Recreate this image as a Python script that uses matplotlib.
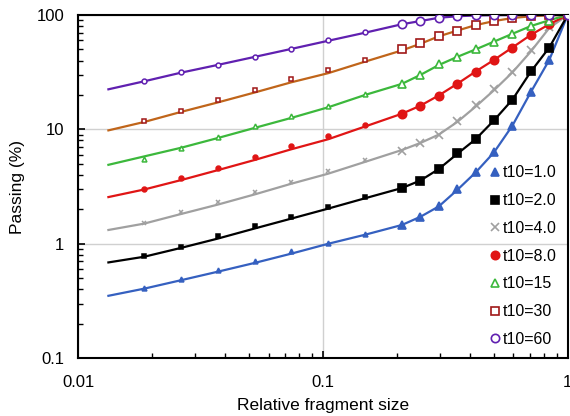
import matplotlib
matplotlib.use("Agg")
import matplotlib.pyplot as plt
from matplotlib.ticker import FixedLocator, FixedFormatter, LogLocator, NullFormatter

plt.rcParams['font.family'] = ['Liberation Sans', 'DejaVu Sans']

# relative fragment sizes of the test points (sqrt2 / 4th-root-2 series)
sizes = [0.0186, 0.0263, 0.0372, 0.0526, 0.0743, 0.1051, 0.1487, 0.2102,
         0.25, 0.2973, 0.3536, 0.4204, 0.5, 0.5946, 0.7071, 0.8409, 1.0]
line_x = [0.0133] + sizes

labels = ['t10=1.0', 't10=2.0', 't10=4.0', 't10=8.0', 't10=15', 't10=30', 't10=60']

# measured passing (%)
pts_1 = [0.41, 0.492, 0.593, 0.714, 0.857, 1.01, 1.22, 1.47, 1.73, 2.12, 3.0, 4.2, 6.3, 10.8, 21.4, 40.5, 100]
pts_2 = [0.775, 0.946, 1.16, 1.42, 1.73, 2.09, 2.54, 3.07, 3.57, 4.49, 6.2, 8.2, 12.1, 18.1, 32.4, 51.8, 100]
pts_4 = [1.53, 1.91, 2.33, 2.83, 3.5, 4.34, 5.42, 6.53, 7.67, 9.0, 11.8, 16.2, 22.7, 32.0, 49.0, 78.0, 100]
pts_8 = [3.02, 3.75, 4.58, 5.79, 7.22, 8.77, 10.9, 13.7, 16.1, 19.6, 25.0, 32.0, 40.5, 51.8, 66.9, 83.4, 100]
pts_15 = [5.5, 6.9, 8.65, 10.7, 13.1, 16.1, 20.4, 25.0, 29.9, 37.1, 43.2, 50.1, 58.4, 68.2, 80.2, 89.2, 100]
pts_30 = [11.9, 14.5, 18.0, 22.0, 27.4, 33.3, 40.7, 50.5, 57.3, 65.9, 72.9, 81.8, 88.7, 94.2, 97.5, 99.2, 100]
pts_60 = [26.5, 31.6, 36.6, 43.0, 50.8, 60.1, 70.6, 83.4, 88.5, 95.0, 98.0, 99.4, 99.7, 99.8, 99.9, 100, 100]

# fitted curves (passing %) at line_x
fit_1 = [0.351, 0.405, 0.48, 0.57, 0.68, 0.82, 1.0, 1.2, 1.46, 1.72, 2.12, 2.95, 4.2, 6.3, 10.8, 21.2, 40.5, 100]
fit_2 = [0.687, 0.77, 0.92, 1.11, 1.36, 1.66, 2.03, 2.5, 3.07, 3.57, 4.5, 6.1, 8.2, 12.0, 18.2, 32, 52, 100]
fit_4 = [1.32, 1.5, 1.82, 2.2, 2.7, 3.35, 4.1, 5.2, 6.6, 7.6, 9.0, 11.6, 15.8, 22.0, 31.5, 48, 77, 100]
fit_8 = [2.56, 2.98, 3.6, 4.4, 5.4, 6.7, 8.2, 10.6, 13.7, 16.1, 19.8, 25, 32, 40.5, 52, 67, 83, 100]
fit_15 = [4.9, 5.8, 6.9, 8.4, 10.3, 12.6, 15.6, 20.0, 25.0, 29.9, 36.5, 43, 50, 58.5, 68.5, 80, 90, 100]
fit_30 = [9.8, 11.6, 14.2, 17.2, 21.0, 25.8, 31.0, 39.1, 49.0, 56.0, 65, 73, 81.5, 88.5, 94, 97.5, 99.3, 100]
fit_60 = [22.4, 26.3, 31.3, 36.6, 43, 50.5, 59.5, 70, 83, 88.5, 94.5, 97.5, 99, 99.6, 99.8, 99.9, 100, 100]

points = [pts_1, pts_2, pts_4, pts_8, pts_15, pts_30, pts_60]
fits = [fit_1, fit_2, fit_4, fit_8, fit_15, fit_30, fit_60]

line_colors = ['#3560c0', '#000000', '#a0a0a0', '#e01515', '#3cb83c', '#c0651a', '#6020b0']
edge_colors = ['#3560c0', '#000000', '#a0a0a0', '#e01515', '#3cb83c', '#a01818', '#6020b0']
markers = ['^', 's', 'x', 'o', '^', 's', 'o']
filled = [True, True, True, True, False, False, False]

fig = plt.figure(figsize=(5.7, 4.16), dpi=100)
ax = fig.add_axes([0.137, 0.139, 0.859, 0.825])

handles = []
for i in range(len(labels)):
    ax.plot(line_x, fits[i], color=line_colors[i], lw=1.6, zorder=2)
    fc = edge_colors[i] if filled[i] else 'white'
    n = 7  # first points use small markers
    ax.plot(sizes[:n], points[i][:n], ls='none', marker=markers[i], ms=3.5,
            mfc=fc, mec=edge_colors[i], mew=1.1, zorder=3)
    h, = ax.plot(sizes[n:], points[i][n:], ls='none', marker=markers[i], ms=6,
                 mfc=fc, mec=edge_colors[i], mew=1.2, zorder=3, label=labels[i])
    handles.append(h)

ax.set_xscale('log')
ax.set_yscale('log')
ax.set_xlim(0.01, 1)
ax.set_ylim(0.1, 100)

ax.xaxis.set_major_locator(FixedLocator([0.01, 0.1, 1]))
ax.xaxis.set_major_formatter(FixedFormatter(['0.01', '0.1', '1']))
ax.yaxis.set_major_locator(FixedLocator([0.1, 1, 10, 100]))
ax.yaxis.set_major_formatter(FixedFormatter(['0.1', '1', '10', '100']))
ax.xaxis.set_minor_locator(LogLocator(base=10, subs=range(2, 10)))
ax.yaxis.set_minor_locator(LogLocator(base=10, subs=range(2, 10)))
ax.xaxis.set_minor_formatter(NullFormatter())
ax.yaxis.set_minor_formatter(NullFormatter())

ax.grid(True, which='major', color='#d0d0d0', lw=1.0)
ax.tick_params(which='both', direction='in', top=False, right=False, labelsize=12)
ax.tick_params(which='major', length=5, width=1.2)
ax.tick_params(which='minor', length=3.5, width=1.0)
ax.tick_params(axis='x', pad=12)
ax.tick_params(axis='y', pad=10)
for s in ax.spines.values():
    s.set_linewidth(1.5)

ax.set_xlabel('Relative fragment size', fontsize=12.5, labelpad=6)
ax.set_ylabel('Passing (%)', fontsize=12.5, labelpad=8)

ax.legend(handles=handles, loc='lower right', frameon=False, fontsize=11.5,
          handlelength=0.8, handletextpad=0.1, labelspacing=0.8,
          borderaxespad=0.3, markerscale=1.0)

fig.savefig('out.png', dpi=100)
